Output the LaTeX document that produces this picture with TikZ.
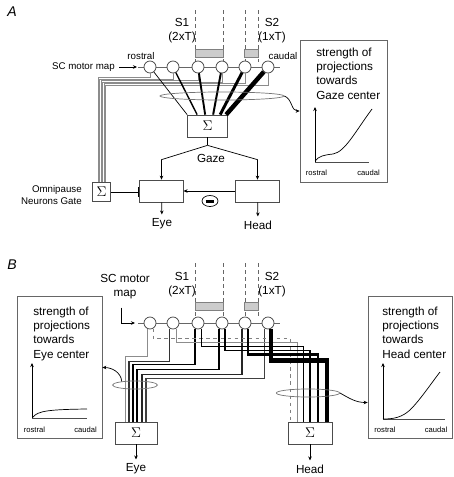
\documentclass[tikz,border=0pt]{standalone}
\usepackage{fontspec}
\setmainfont{Liberation Sans}
\usetikzlibrary{shapes,arrows,positioning,calc,arrows.meta}

\begin{document}
\begin{tikzpicture}[
    x=0.03cm, y=-0.03cm,
    line width=0.6pt,
    font=\fontsize{10}{12}\selectfont,
    >={Stealth[length=3.4pt,width=3pt]},
    unit/.style={circle, draw=black!75, fill=white, inner sep=0pt, minimum size=0.36cm},
    stimbox/.style={draw=black!50, fill=black!20, inner sep=0pt, minimum width=#1, minimum height=0.24cm},
    sumbox/.style={draw=black!70, minimum width=1.2cm, minimum height=0.66cm, font=\large},
    outbox/.style={draw=black!70, minimum width=1.3cm, minimum height=0.66cm},
    graphbox/.style={draw=black!60, minimum width=2.55cm, minimum height=4.24cm},
    bundle/.style={ellipse, draw=black!55, inner sep=0pt, minimum height=0.24cm},
    graphtext/.style={anchor=north west, align=left, inner sep=0pt},
    axlabel/.style={font=\fontsize{6.5}{8}\selectfont},
    smalllbl/.style={font=\fontsize{8.3}{9.8}\selectfont},
    panel/.style={font=\fontsize{12}{14}\selectfont\itshape}
]
    \useasboundingbox (0,0) rectangle (454,477);

    % ---------- A ----------
    \node[panel] (labelA) at (12,12) {A};
    \foreach \x in {195,223,245,258}
        \draw[dashed, black!60] (\x,10) -- (\x,62);
    \node[stimbox=0.84cm] (stimA1) at (209,53) {};
    \node[stimbox=0.40cm] (stimA2) at (251.5,53) {};
    \node[align=center] (s1A) at (182,31) {S1\\(2xT)};
    \node[align=center] (s2A) at (272,31) {S2\\(1xT)};

    \draw[black!60] (138,67) -- (280,67);
    \foreach \i/\x in {1/150,2/173,3/198,4/222,5/245,6/268}
        \node[unit] (a\i) at (\x,67) {};
    \node[smalllbl] (rostA) at (141,56) {rostral};
    \node[smalllbl] (caudA) at (283,56) {caudal};
    \node[smalllbl, anchor=east] (mapA) at (119,67) {SC motor map};
    \coordinate (inA) at (137,67);
    \draw[->] (mapA) -- (inA);

    % gate bundle
    \node[sumbox, minimum width=0.5cm, minimum height=0.57cm] (omni) at (101.5,192) {$\Sigma$};
    \foreach \i in {1,...,6}
        \draw[black!45, line width=0.5pt] (a\i.south) -- ++(0,{2.5+1.5*\i}) -| ($(omni.north)+({-5+1.5*\i},0)$);
    \node[smalllbl, align=right, anchor=east] (gateL) at (86,195) {Omnipause\\Neurons Gate};

    % weighted projections to gaze
    \node[sumbox] (gsum) at (207.5,126) {$\Sigma$};
    \foreach \i/\w/\d in {1/0.6/0, 2/1.2/10, 3/1.6/18, 4/1.7/26, 5/2.5/33, 6/3.8/39}
        \draw[line width=\w pt] (a\i) -- ($(gsum.north west)+(\d,0)$);
    \node[bundle, minimum width=3.72cm] (bundA) at (222,96) {};

    \node[graphbox, minimum width=2.61cm, minimum height=4.26cm] (gazeG) at (343.5,111) {};
    \draw[->] (bundA.east) to[out=-20, in=180] (gazeG.west);
    \node[graphtext] (gazeT) at (316,48) {strength of\\projections\\towards\\Gaze center};
    \draw[->, line width=0.8pt] (315,162) -- (315,107);
    \draw[line width=0.8pt, black!70] (315,162) -- (369,162);
    \draw (315,161) .. controls (319,156) and (324,155) .. (333,154) .. controls (345,152) and (355,132) .. (372,109);
    \node[axlabel] (rostG) at (316.5,173) {rostral};
    \node[axlabel] (caudG) at (368.5,173) {caudal};

    % gaze split
    \coordinate (gsplit) at ($(gsum.south)+(0,8)$);
    \node[outbox] (eyeA) at (161.5,191) {};
    \node[outbox] (headA) at (257.5,191) {};
    \node (gazeL) at (211,158) {Gaze};
    \draw (gsum.south) -- (gsplit);
    \draw[->] (gsplit) -- ($(eyeA.north)+(0,-20)$) -- (eyeA.north);
    \draw[->] (gsplit) -- ($(headA.north)+(0,-20)$) -- (headA.north);
    \node (eyeOutA) at (162,224) {Eye};
    \node (headOutA) at (258,225) {Head};
    \draw[->] (eyeA) -- (eyeOutA);
    \draw[->] (headA) -- (headOutA);
    \draw[->] (headA) -- (eyeA);
    \node[ellipse, draw, inner sep=0pt, minimum width=0.48cm, minimum height=0.33cm] (inhA) at (210,201) {\rule{0.26cm}{0.09cm}};
    \draw[-{Bar[width=0.3cm]}, shorten >=1pt] (omni.east) -- (omni.east -| eyeA.west);

    % ---------- B ----------
    \node[panel] (labelB) at (12,265) {B};
    \foreach \x in {195,223,245,258}
        \draw[dashed, black!60] (\x,263) -- (\x,318);
    \node[stimbox=0.84cm] (stimB1) at (209,306) {};
    \node[stimbox=0.40cm] (stimB2) at (251.5,306) {};
    \node[align=center] (s1B) at (182,285) {S1\\(2xT)};
    \node[align=center] (s2B) at (272,285) {S2\\(1xT)};

    \draw[black!60] (138,323) -- (280,323);
    \foreach \i/\x in {1/150,2/173,3/198,4/222,5/245,6/268}
        \node[unit] (b\i) at (\x,323) {};
    \node[align=center] (mapB) at (125,287) {SC motor\\map};
    \coordinate (inB) at (135,323);
    \draw[->] ($(mapB.south)+(-4,4)$) |- (inB);

    \node[sumbox, minimum width=1.26cm] (eyeSum) at (136,433) {$\Sigma$};
    \node[sumbox, minimum width=1.32cm] (headSum) at (310,433) {$\Sigma$};

    % to eye center
    \foreach \i/\y/\d/\w/\c in {1/356/-11/0.5/black!45, 2/361/-7/1.1/black!80, 3/364/-3/1.6/black, 4/369/1/1.6/black, 5/374/6/1.3/black!85, 6/378/10/1.0/black!75}
        \draw[line width=\w pt, \c] (b\i.-120) -- ++(0,{\y-328}) -| ($(eyeSum.north)+(\d,0)$);
    % to head center
    \draw[dashed, black!50, line width=0.5pt] (b1.-60) -- ++(0,10) -| ($(headSum.north)+(-20,0)$);
    \foreach \i/\y/\d/\w/\c in {2/342/-13/0.6/black!45, 3/346/-7/0.8/black, 4/350/0/1.3/black, 5/354/8/2.2/black, 6/360/17/3.5/black}
        \draw[line width=\w pt, \c] (b\i.-60) -- ++(0,{\y-328}) -| ($(headSum.north)+(\d,0)$);

    \node[bundle, minimum width=1.35cm] (eyeBund) at (135,385) {};
    \node[bundle, minimum width=1.9cm] (headBund) at (308,393) {};

    \node[graphbox] (eyeG) at (59.5,367.5) {};
    \node[graphtext] (eyeT) at (33,307) {strength of\\projections\\towards\\Eye center};
    \draw[->, line width=0.8pt] (32,418) -- (32,363);
    \draw[line width=0.8pt, black!70] (32,418) -- (87,418);
    \draw (33,417) .. controls (38,411) and (48,409.5) .. (87,409);
    \node[axlabel] (rostE) at (34.5,430) {rostral};
    \node[axlabel] (caudE) at (85.5,430) {caudal};
    \draw[->] (eyeBund.165) to[out=95, in=0] (eyeG.east);

    \node[graphbox, minimum width=2.52cm] (headG) at (410,367.5) {};
    \node[graphtext] (headT) at (382,307) {strength of\\projections\\towards\\Head center};
    \draw[->, line width=0.8pt] (383,419) -- (383,363);
    \draw[line width=0.8pt, black!70] (383,419) -- (445,419);
    \draw (383,419) .. controls (395,419) and (402,417) .. (410,410) .. controls (420,400) and (430,385) .. (440,372);
    \node[axlabel] (rostH) at (385,430) {rostral};
    \node[axlabel] (caudH) at (436,430) {caudal};
    \draw[->] (headBund.east) to[out=-30, in=180] ($(headG.west)+(0,35)$);

    \node (eyeOutB) at (136,469) {Eye};
    \node (headOutB) at (310,469) {Head};
    \draw[->] (eyeSum) -- (eyeOutB);
    \draw[->] (headSum) -- (headOutB);
\end{tikzpicture}
\end{document}
